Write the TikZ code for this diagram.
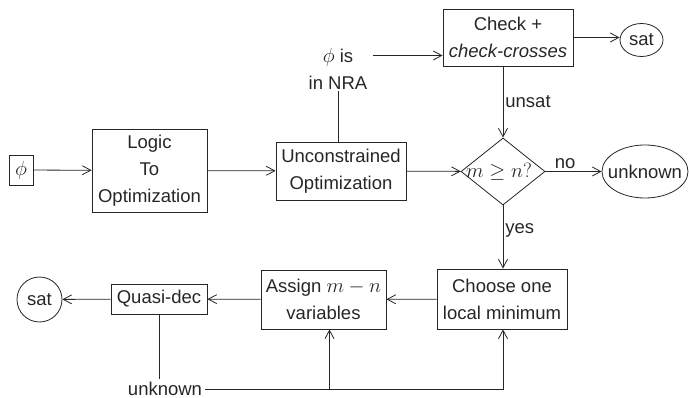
\RequirePackage{fix-cm}
\documentclass[tikz,border=0pt]{standalone}
\usepackage{fontspec}
\setmainfont{Liberation Sans}
\DeclareMathSizes{18.5}{20.5}{14}{10}
\usetikzlibrary{arrows.meta,shapes.geometric}
\begin{document}
\begin{tikzpicture}[x=1pt,y=1pt,
  font=\fontsize{18.5}{27}\selectfont,
  line width=0.8pt, color=black!85,
  >={Straight Barb[length=8.5pt,width=9pt]},
  box/.style={draw, align=center, inner sep=0pt},
  lbl/.style={inner sep=2pt},
]
\useasboundingbox (0,0) rectangle (689,-398);
\node[box, minimum width=24, minimum height=30] (phi) at (21,-170) {$\phi$};
\node[box, minimum width=115, minimum height=83] (logic) at (149.5,-170.5) {Logic\\To\\Optimization};
\node[box, minimum width=130, minimum height=58] (uncon) at (341,-171) {Unconstrained\\Optimization};
\node[align=center, inner sep=1pt] (nra) at (338,-69) {$\phi$ is\\in NRA};
\node[box, minimum width=130, minimum height=57] (check) at (508,-37.5) {Check +\\\textit{check-crosses}};
\node[draw, ellipse, minimum width=43, minimum height=33, inner sep=0pt] (sat1) at (641.5,-40) {\makebox[24pt]{sat}};
\node[draw, diamond, minimum width=84, minimum height=63, inner sep=0pt] (dia) at (503,-171.5) {\makebox[50pt]{\hspace*{-8pt}$m\geq n?$}};
\node[draw, ellipse, minimum width=86, minimum height=53, inner sep=0pt] (unk) at (645,-171.5) {\makebox[55pt]{unknown}};
\node[box, minimum width=130, minimum height=60] (choose) at (502,-299) {Choose one\\local minimum};
\node[box, minimum width=125, minimum height=59] (assign) at (323.5,-299.5) {Assign $m-n$\\variables};
\node[box, minimum width=96, minimum height=30] (quasi) at (159,-299) {Quasi-dec};
\node[draw, circle, minimum size=45, inner sep=0pt] (sat2) at (39.5,-299.5) {sat};
\node[inner sep=3pt] (unk2) at (165,-389) {unknown};

\draw[->] (phi) -- (logic);
\draw[->] (logic) -- (uncon);
\draw (uncon.north -| nra.south) -- (nra.south);
\draw[->] ([xshift=4pt,yshift=13.5pt]nra.east) -- ([yshift=13.5pt]nra.east -| check.west);
\draw[->] (check) -- (check -| sat1.west);
\draw[->] (check.south -| dia.north) -- node[lbl, right, pos=0.5] {unsat} (dia.north);
\draw[->] (uncon) -- (dia);
\draw[->] (dia) -- node[lbl, above, pos=0.35] {no} (unk);
\draw[->] (dia.south) -- node[lbl, right, pos=0.4] {yes} (dia.south |- choose.north);
\draw[->] (choose) -- (assign);
\draw[->] (assign) -- (quasi);
\draw[->] (quasi) -- (sat2);
\draw (quasi.south) -- (quasi.south |- unk2.north);
\draw[->] (unk2.east) -| (dia.south |- choose.south);
\draw[->] (unk2.east -| assign.south) ++(6,0) coordinate (as) -- (as |- assign.south);
\end{tikzpicture}
\end{document}
